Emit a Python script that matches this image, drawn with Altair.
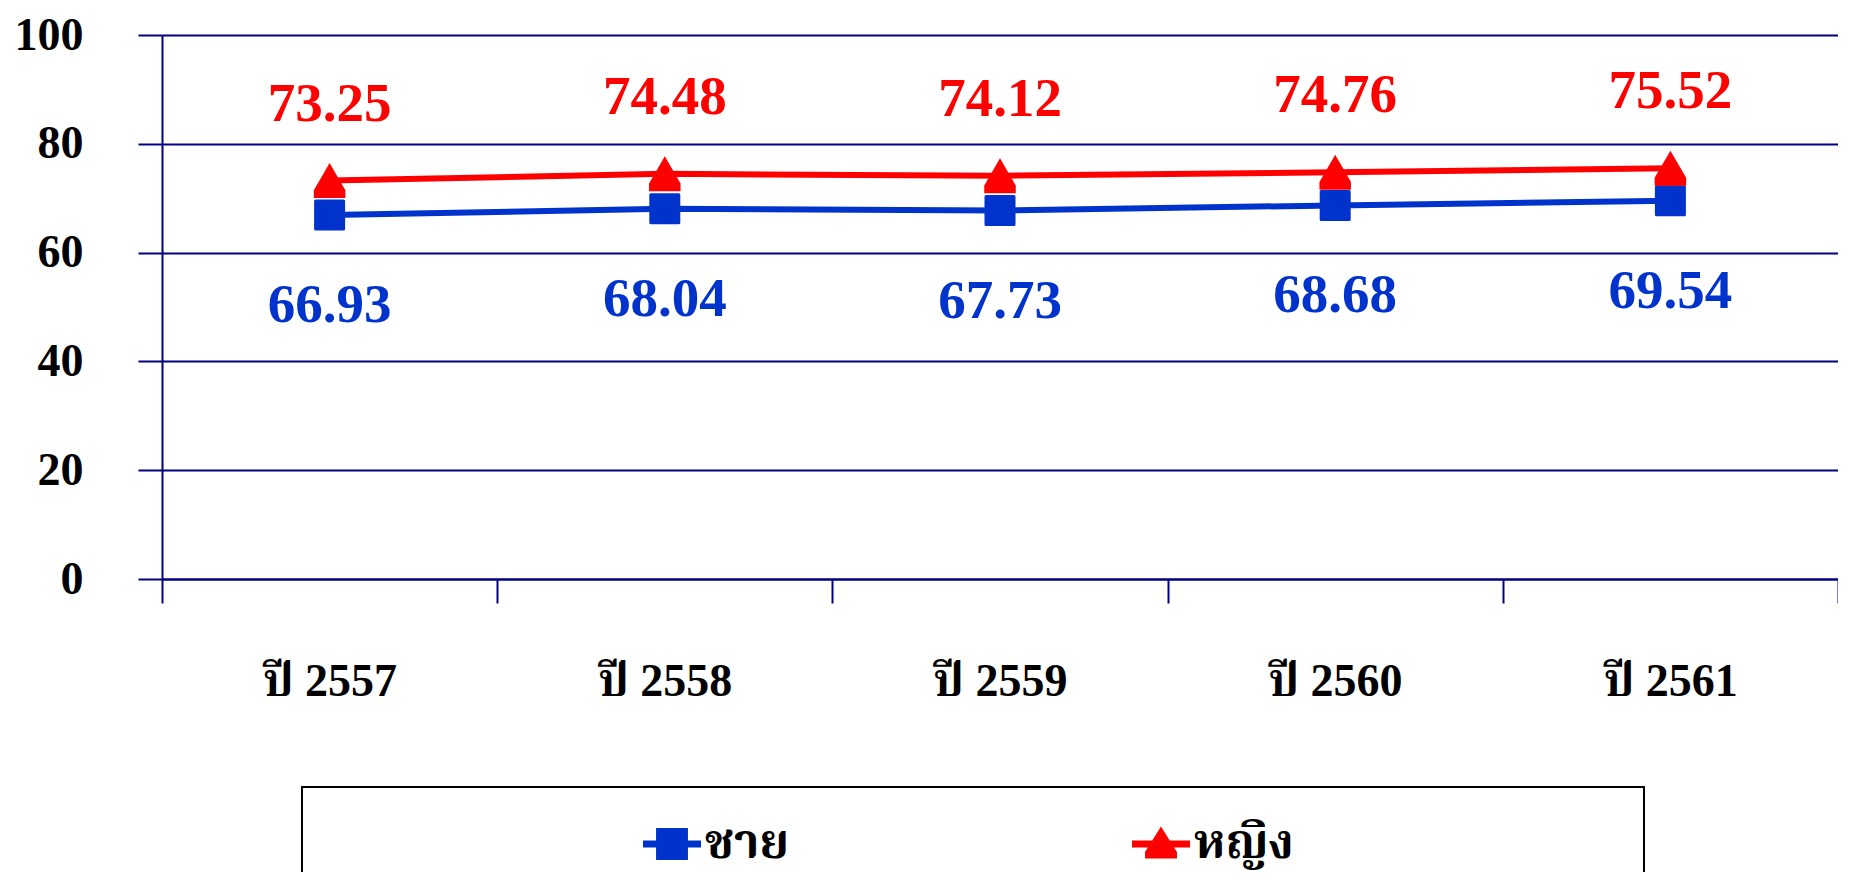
import altair as alt
import pandas as pd

# ---- data ----
years = ["ปี 2557", "ปี 2558", "ปี 2559", "ปี 2560", "ปี 2561"]
male = [66.93, 68.04, 67.73, 68.68, 69.54]
female = [73.25, 74.48, 74.12, 74.76, 75.52]
series_names = ["ชาย", "หญิง"]
series_colors = ["#0033CC", "#FF0000"]
y_ticks = [0, 20, 40, 60, 80, 100]

rows = []
for yr, m, f in zip(years, male, female):
    rows.append({"year": yr, "series": series_names[0], "value": m})
    rows.append({"year": yr, "series": series_names[1], "value": f})
df = pd.DataFrame(rows)

FONT = "'Liberation Serif', 'Noto Serif Thai', 'Noto Sans Thai', serif"
NAVY = "#000080"

# legend symbols: a short line with the marker in its middle
male_legend_path = "M-1,-0.12L1,-0.12L1,0.12L-1,0.12Z M-0.55,-0.55L0.55,-0.55L0.55,0.55L-0.55,0.55Z"
female_legend_path = "M-1,-0.12L1,-0.12L1,0.12L-1,0.12Z M0,-0.6L0.55,0.28L0.55,0.5L-0.55,0.5L-0.55,0.28Z"
triangle_path = "M0,-1L0.9,0.55L0.9,1L-0.9,1L-0.9,0.55Z"

x_enc = alt.X(
    "year:N",
    sort=years,
    bandPosition=0.5,
    scale=alt.Scale(type="band", paddingInner=0, paddingOuter=0),
    axis=alt.Axis(
        title=None,
        tickBand="extent",
        labelAngle=0,
        labelFont=FONT,
        labelFontSize=46,
        labelFontWeight="bold",
        labelColor="black",
        labelPadding=56,
        tickSize=24,
        tickColor=NAVY,
        tickWidth=2,
        domainColor=NAVY,
        domainWidth=2,
        grid=False,
    ),
)
y_enc = alt.Y(
    "value:Q",
    scale=alt.Scale(domain=[0, 100], nice=False, zero=True),
    axis=alt.Axis(
        title=None,
        values=y_ticks,
        grid=True,
        gridColor=NAVY,
        gridWidth=2,
        gridOpacity=1,
        domainColor=NAVY,
        domainWidth=2,
        tickColor=NAVY,
        tickWidth=2,
        tickSize=24,
        labelFont=FONT,
        labelFontSize=46,
        labelFontWeight="bold",
        labelColor="black",
        labelPadding=55,
    ),
)

base = alt.Chart(df).encode(x=x_enc, y=y_enc)
is_male = alt.datum.series == series_names[0]
is_female = alt.datum.series == series_names[1]

box = alt.Chart(alt.Data(values=[{"k": 0}])).mark_rect(
    fill="transparent", stroke="black", strokeWidth=2
).encode(x=alt.value(140), x2=alt.value(1482), y=alt.value(752), y2=alt.value(1000))

male_line = base.transform_filter(is_male).mark_line(strokeWidth=6, color=series_colors[0])
female_line = base.transform_filter(is_female).mark_line(strokeWidth=6, color=series_colors[1])

male_pts = base.transform_filter(is_male).mark_point(
    shape="square", filled=True, size=784, color=series_colors[0],
    stroke=series_colors[0], strokeWidth=3, strokeJoin="round", opacity=1
)
female_pts = base.transform_filter(is_female).mark_point(
    shape=triangle_path, filled=True, size=1225, color=series_colors[1], opacity=1
)

female_txt = base.transform_filter(is_female).mark_text(
    dy=-77, font=FONT, fontSize=55, fontWeight="bold", color=series_colors[1]
).encode(text=alt.Text("value:Q", format=".2f"))
male_txt = base.transform_filter(is_male).mark_text(
    dy=90, font=FONT, fontSize=55, fontWeight="bold", color=series_colors[0]
).encode(text=alt.Text("value:Q", format=".2f"))

legend_def = alt.Legend(
    title=None,
    orient="none",
    legendX=481,
    legendY=780,
    direction="horizontal",
    symbolSize=3364,
    symbolStrokeWidth=0,
    symbolOpacity=1,
    labelFont=FONT,
    labelFontSize=48,
    labelFontWeight="bold",
    labelColor="black",
    labelOffset=4,
    columnPadding=342,
    padding=0,
)

legend_layer = base.transform_filter("datum.value < 0").mark_point(filled=True, opacity=1).encode(
    color=alt.Color(
        "series:N",
        scale=alt.Scale(domain=series_names, range=series_colors),
        legend=legend_def,
    ),
    shape=alt.Shape(
        "series:N",
        scale=alt.Scale(domain=series_names, range=[male_legend_path, female_legend_path]),
        legend=legend_def,
    ),
)

chart = alt.layer(
    box, male_line, female_line, male_pts, female_pts, female_txt, male_txt, legend_layer
).properties(
    width=1676,
    height=544,
    autosize=alt.AutoSizeParams(type="none"),
    padding={"left": 154, "top": 27, "right": 0, "bottom": 293},
    background="white",
).configure_view(strokeWidth=0)

chart.save("out.html", embed_options={"renderer": "svg", "actions": False})
